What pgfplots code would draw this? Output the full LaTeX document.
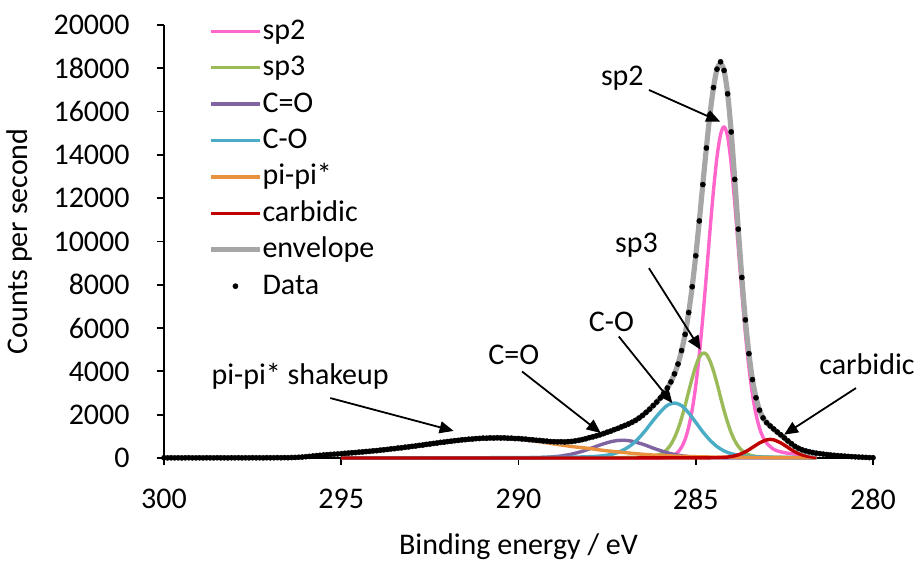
\documentclass[border=0pt]{standalone}
\usepackage{fontspec}
\setmainfont{Carlito}
\usepackage{pgfplots}
\pgfplotsset{compat=1.18}
\usetikzlibrary{arrows.meta}

\definecolor{csptwo}{HTML}{FF66CC}
\definecolor{cspthree}{HTML}{9BBB59}
\definecolor{cCdO}{HTML}{8064A2}
\definecolor{cCO}{HTML}{4BACC6}
\definecolor{cpipi}{HTML}{E8913F}
\definecolor{ccarb}{HTML}{C00000}
\definecolor{cenv}{HTML}{A6A6A6}

\newcommand{\fs}{\fontsize{15pt}{18pt}\selectfont}
\pgfplotsset{dotlegend/.style={legend image code/.code={\draw[##1] plot coordinates {(12.25pt,0pt)};}}}

\begin{document}
\begin{tikzpicture}
\begin{axis}[
    scale only axis,
    width=354.5pt, height=216.5pt,
    x dir=reverse,
    xmin=280, xmax=300, ymin=0, ymax=20000,
    xtick={280,285,290,295,300},
    ytick={0,2000,...,20000},
    axis x line*=bottom, axis y line*=left,
    axis line style={line width=0.9pt, black},
    tick style={line width=0.9pt, black},
    tick align=outside, major tick length=3.5pt,
    scaled y ticks=false,
    /pgf/number format/1000 sep={},
    /pgf/number format/assume math mode=true,
    tick label style={font=\fs},
    yticklabel style={anchor=east, inner sep=0pt, xshift=-13.5pt},
    xticklabel style={anchor=north, inner sep=0pt, yshift=-12pt},
    xlabel={Binding energy / eV},
    ylabel={Counts per second},
    label style={font=\fs},
    xlabel style={at={(rel axis cs:0.5,-0.2232)}, anchor=base},
    ylabel style={at={(rel axis cs:-0.2031,0.5)}, anchor=center},
    clip=false,
    legend cell align=left,
    legend style={draw=none, fill=none, inner sep=0pt, font=\fs,
        at={(rel axis cs:0.062,1.0185)}, anchor=north west,
        row sep=4.2pt,
        nodes={inner sep=0pt, text height=11pt, text depth=3pt},
        /tikz/every odd column/.append style={column sep=0pt}},
    legend image code/.code={\draw[#1] (0pt,0pt) -- (24.5pt,0pt);},
    every axis plot/.append style={line width=1.7pt, line join=round},
]
% sp2
\addplot[csptwo, smooth] coordinates {
(295,0)(290,0)(287,0)(286.4,0)(286.2,2)(286.0,7)(285.9,16)(285.8,35)(285.7,72)(285.6,146)
(285.5,276)(285.4,499)(285.3,860)(285.2,1423)(285.1,2229)(285.0,3334)(284.9,4770)(284.8,6505)
(284.7,8441)(284.6,10465)(284.5,12347)(284.4,13911)(284.3,14939)(284.2,15300)(284.1,14841)
(284.0,13586)(283.9,11781)(283.8,9731)(283.7,7650)(283.6,5753)(283.5,4192)(283.4,2938)
(283.3,2020)(283.2,1377)(283.1,949)(283.0,689)(282.8,398)(282.6,283)(282.4,219)(282.2,180)
(282.0,150)(281.8,127)(281.6,109)};
% sp3
\addplot[cspthree, smooth] coordinates {
(295,3)(292,5)(290,7)(289,9)(288,13)(287.4,17)(287,24)(286.6,36)(286.4,51)(286.2,82)(286.0,175)
(285.9,272)(285.8,412)(285.7,631)(285.6,936)(285.5,1334)(285.4,1843)(285.3,2425)(285.2,3065)
(285.1,3686)(285.0,4244)(284.9,4656)(284.8,4840)(284.7,4792)(284.6,4486)(284.5,4026)(284.4,3444)
(284.3,2803)(284.2,2183)(284.1,1639)(284.0,1164)(283.9,800)(283.8,534)(283.7,349)(283.6,223)
(283.5,150)(283.4,99)(283.2,56)(283.0,40)(282.8,31)(282.4,22)(282.0,16)(281.6,12)};
% C=O
\addplot[cCdO, smooth] coordinates {
(295,2)(292,3)(290.5,5)(290,9)(289.5,18)(289.2,36)(289,59)(288.8,93)(288.5,180)(288.2,310)(288,422)
(287.8,541)(287.6,656)(287.4,750)(287.2,809)(287,818)(286.8,775)(286.6,689)(286.4,582)(286.2,455)
(286,344)(285.8,242)(285.6,164)(285.4,107)(285.2,66)(285,40)(284.5,14)(284,7)(283,4)(281.6,2)};
% C-O
\addplot[cCO, smooth] coordinates {
(295,6)(294,7)(293,8)(292,10)(291,13)(290,18)(289,30)(288.5,38)(288,61)(287.8,76)(287.6,107)
(287.4,160)(287.2,254)(287.0,406)(286.8,622)(286.6,930)(286.4,1311)(286.2,1735)(286.0,2121)
(285.8,2433)(285.6,2540)(285.4,2421)(285.2,2083)(285.0,1651)(284.8,1207)(284.6,826)(284.4,528)
(284.2,325)(284.0,201)(283.8,127)(283.6,84)(283.4,64)(283.2,51)(283.0,41)(282.6,32)(282.2,25)(281.6,19)};
% pi-pi*
\addplot[cpipi, smooth] coordinates {
(295,190)(294.5,255)(294,330)(293.5,420)(293,520)(292.5,630)(292,740)(291.5,830)(291,890)
(290.5,900)(290,860)(289.5,770)(289,650)(288.5,530)(288,440)(287.6,350)(287.2,282)(286.8,218)
(286.4,160)(286,120)(285.5,85)(285,60)(284.5,45)(284,34)(283.5,26)(283,20)(282.5,15)(282,11)(281.6,9)};
% carbidic
\addplot[ccarb, smooth] coordinates {
(295,0)(290,1)(287,2)(286,3)(285.5,3)(285,6)(284.8,7)(284.6,9)(284.4,14)(284.2,28)(284.0,65)
(283.8,144)(283.6,284)(283.4,486)(283.2,697)(283.0,839)(282.9,860)(282.8,839)(282.6,697)
(282.4,486)(282.2,284)(282.0,144)(281.8,65)(281.6,28)};
% envelope
\addplot[cenv, smooth, line width=2.6pt] coordinates {
(295,201)(294.5,267)(294,342)(293.5,435)(293,535)(292.5,647)(292,759)(291.5,851)(291,914)
(290.5,927)(290,895)(289.5,819)(289,749)(288.5,760)(288,938)(287.8,1023)(287.6,1130)(287.4,1243)
(287.2,1368)(287,1500)(286.8,1645)(286.6,1843)(286.4,2107)(286.2,2415)(286,2770)(285.9,2993)
(285.8,3231)(285.7,3520)(285.6,3881)(285.5,4343)(285.4,4954)(285.3,5718)(285.2,6712)(285.1,7917)
(285,9335)(284.9,10943)(284.8,12639)(284.7,14316)(284.6,15851)(284.5,17103)(284.4,17951)
(284.3,18218)(284.2,17883)(284.1,16821)(284,15057)(283.9,12870)(283.8,10571)(283.7,8341)
(283.6,6376)(283.5,4824)(283.4,3617)(283.3,2783)(283.2,2207)(283.1,1851)(283,1633)(282.8,1325)
(282.6,1056)(282.4,772)(282.2,523)(282,345)(281.8,238)(281.6,179)};
% data
\addplot[black, only marks, mark=*, mark size=1.3pt, mark options={line width=0.2pt}, dotlegend] coordinates {
(300.0,8)(299.9,5)(299.8,10)(299.7,6)(299.6,9)(299.5,4)(299.4,8)(299.3,11)(299.2,6)(299.1,7)
(299.0,9)(298.9,5)(298.8,10)(298.7,8)(298.6,6)(298.5,12)(298.4,7)(298.3,9)(298.2,5)(298.1,10)
(298.0,8)(297.9,11)(297.8,6)(297.7,9)(297.6,7)(297.5,12)(297.4,8)(297.3,10)(297.2,6)(297.1,13)
(297.0,9)(296.9,11)(296.8,15)(296.7,12)(296.6,18)(296.5,14)(296.4,22)(296.3,26)(296.2,35)(296.1,44)
(296.0,60)(295.9,75)(295.8,92)(295.7,110)(295.6,125)(295.5,140)(295.4,152)(295.3,165)(295.2,176)(295.1,186)
(295.0,198)(294.9,214)(294.8,225)(294.7,241)(294.6,252)(294.5,270)(294.4,280)(294.3,299)(294.2,310)(294.1,330)
(294.0,340)(293.9,362)(293.8,378)(293.7,395)(293.6,420)(293.5,432)(293.4,458)(293.3,470)(293.2,498)(293.1,512)
(293.0,538)(292.9,555)(292.8,582)(292.7,598)(292.6,628)(292.5,645)(292.4,672)(292.3,690)(292.2,718)(292.1,732)
(292.0,760)(291.9,775)(291.8,800)(291.7,812)(291.6,838)(291.5,848)(291.4,868)(291.3,875)(291.2,896)(291.1,902)
(291.0,918)(290.9,912)(290.8,930)(290.7,921)(290.6,935)(290.5,925)(290.4,930)(290.3,912)(290.2,915)(290.1,896)
(290.0,900)(289.9,880)(289.8,872)(289.7,848)(289.6,840)(289.5,818)(289.4,810)(289.3,788)(289.2,780)(289.1,758)
(289.0,752)(288.9,745)(288.8,752)(288.7,740)(288.6,758)(288.5,765)(288.4,790)(288.3,815)(288.2,848)(288.1,890)
(288.0,940)(287.9,978)(287.8,1025)(287.7,1072)(287.6,1128)(287.5,1190)(287.4,1240)(287.3,1310)(287.2,1365)(287.1,1438)
(287.0,1500)(286.9,1570)(286.8,1650)(286.7,1735)(286.6,1845)(286.5,1965)(286.4,2110)(286.3,2255)(286.2,2420)(286.1,2585)
(286.0,2770)(285.9,2990)(285.8,3235)(285.7,3515)(285.6,3885)(285.5,4340)(285.4,4960)(285.3,5710)(285.2,6720)(285.1,7910)
(285.0,9340)(284.9,10950)(284.8,12630)(284.7,14320)(284.6,15860)(284.5,17110)(284.4,17960)(284.3,18300)(284.2,17900)(284.1,16820)
(284.0,15060)(283.9,12870)(283.8,10570)(283.7,8340)(283.6,6380)(283.5,4820)(283.4,3620)(283.3,2780)(283.2,2210)(283.1,1850)
(283.0,1630)(282.9,1480)(282.8,1340)(282.7,1200)(282.6,1070)(282.5,930)(282.4,790)(282.3,660)(282.2,540)(282.1,450)
(282.0,380)(281.9,330)(281.8,290)(281.7,255)(281.6,225)(281.5,200)(281.4,180)(281.3,160)(281.2,142)(281.1,126)
(281.0,112)(280.9,98)(280.8,86)(280.7,74)(280.6,63)(280.5,53)(280.4,44)(280.3,35)(280.2,27)(280.1,19)(280.0,12)};
\legend{sp2,sp3,C=O,C-O,pi-pi*,carbidic,envelope,Data}

% annotations
\begin{scope}[font=\fs]
\node at (axis cs:287.07,17540) {sp2};
\draw[line width=0.9pt, -{Triangle[length=7pt,width=6pt]}] (axis cs:286.32,17000) -- (axis cs:284.31,15533);
\node at (axis cs:286.67,9843) {sp3};
\draw[line width=0.9pt, -{Triangle[length=7pt,width=6pt]}] (axis cs:286.32,8768) -- (axis cs:284.86,4998);
\node at (axis cs:287.38,6304) {C-O};
\draw[line width=0.9pt, -{Triangle[length=7pt,width=6pt]}] (axis cs:287.17,5611) -- (axis cs:285.66,2538);
\node at (axis cs:290.13,4767) {C=O};
\draw[line width=0.9pt, -{Triangle[length=7pt,width=6pt]}] (axis cs:289.90,3996) -- (axis cs:287.68,1154);
\node at (axis cs:296.16,3798) {pi-pi* shakeup};
\draw[line width=0.9pt, -{Triangle[length=7pt,width=6pt]}] (axis cs:295.31,2769) -- (axis cs:291.83,1251);
\node at (axis cs:280.17,4352) {carbidic};
\draw[line width=0.9pt, -{Triangle[length=7pt,width=6pt]}] (axis cs:280.48,3230) -- (axis cs:282.51,1075);
\end{scope}
\coordinate (bbsw) at (rel axis cs:-0.2313,-0.2379);
\coordinate (bbne) at (rel axis cs:1.0677,1.0577);
\end{axis}
\pgfresetboundingbox
\useasboundingbox (bbsw) rectangle (bbne);
\end{tikzpicture}
\end{document}
